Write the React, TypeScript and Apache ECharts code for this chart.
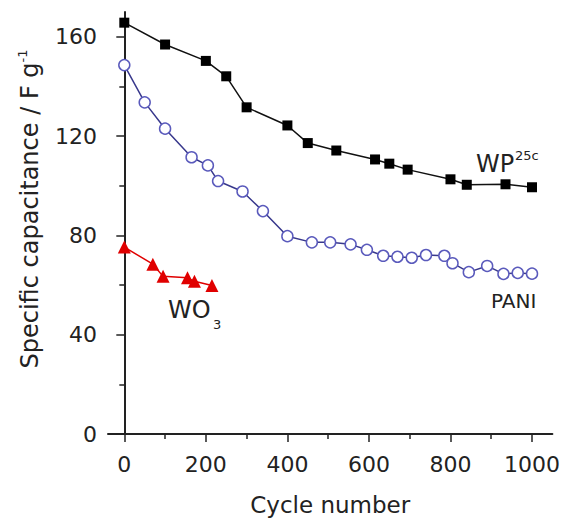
import { useEffect, useRef } from 'react';
import * as echarts from 'echarts';

const wpCycles = [0, 100, 200, 250, 300, 400, 450, 520, 615, 650, 695, 800, 840, 935, 1000];
const wpValues = [165.7, 156.9, 150.3, 144.1, 131.6, 124.3, 117.2, 114.2, 110.6, 108.9, 106.5, 102.6, 100.4, 100.6, 99.4];

const paniCycles = [0, 50, 100, 165, 205, 230, 290, 340, 400, 460, 505, 555, 595, 635, 670, 705, 740, 785, 805, 845, 890, 930, 965, 1000];
const paniValues = [148.6, 133.6, 123.0, 111.5, 108.2, 101.9, 97.7, 89.8, 79.7, 77.2, 77.2, 76.4, 74.2, 71.8, 71.4, 71.0, 72.1, 71.8, 68.8, 65.2, 67.7, 64.5, 64.9, 64.6];

const wo3Cycles = [0, 70, 95, 155, 172, 215];
const wo3Values = [75.3, 68.4, 63.5, 62.9, 61.5, 59.8];

const xMajorTicks = [0, 200, 400, 600, 800, 1000];
const xMinorTicks = [100, 300, 500, 700, 900];
const yMajorTicks = [0, 40, 80, 120, 160];
const yMinorTicks = [20, 60, 100, 140];

const FONT = 'DejaVu Sans';
const TEXT = '#222';

const zip = (xs: number[], ys: number[]) => xs.map((x, i) => [x, ys[i]]);

export default function App() {
  const ref = useRef<HTMLDivElement>(null);
  useEffect(() => {
    if (!ref.current) return;
    const chart = echarts.init(ref.current, null, { renderer: 'svg' });
    const axisLine = { show: true, lineStyle: { color: '#222', width: 2 } };
    chart.setOption({
      animation: false,
      backgroundColor: '#fff',
      grid: { left: 108, right: 10, top: 12, bottom: 78 },
      xAxis: [
        {
          type: 'value', min: -40, max: 1050,
          axisLine,
          splitLine: { show: false },
          axisTick: { show: true, customValues: xMajorTicks, length: 8, lineStyle: { color: '#222', width: 1.5 } },
          axisLabel: { customValues: xMajorTicks, fontSize: 22, fontFamily: FONT, color: TEXT, margin: 19, formatter: (v: number) => String(v) },
          name: 'Cycle number', nameLocation: 'middle', nameGap: 59,
          nameTextStyle: { fontSize: 23, fontFamily: FONT, color: TEXT },
        },
        {
          type: 'value', min: -40, max: 1050, position: 'bottom',
          axisLine: { show: false },
          splitLine: { show: false },
          axisTick: { show: true, customValues: xMinorTicks, length: 5, lineStyle: { color: '#222', width: 1.5 } },
          axisLabel: { show: false },
        },
      ],
      yAxis: [
        {
          type: 'value', min: 0, max: 170,
          axisLine,
          splitLine: { show: false },
          axisTick: { show: true, customValues: yMajorTicks, length: 8, lineStyle: { color: '#222', width: 1.5 } },
          axisLabel: { customValues: yMajorTicks, fontSize: 22, fontFamily: FONT, color: TEXT, margin: 11, formatter: (v: number) => String(v) },
        },
        {
          type: 'value', min: 0, max: 170, position: 'left',
          axisLine: { show: false },
          splitLine: { show: false },
          axisTick: { show: true, customValues: yMinorTicks, length: 5, lineStyle: { color: '#222', width: 1.5 } },
          axisLabel: { show: false },
        },
      ],
      series: [
        {
          name: 'WP25c', type: 'line', data: zip(wpCycles, wpValues),
          symbol: 'rect', symbolSize: 10,
          itemStyle: { color: '#000' },
          lineStyle: { color: '#111', width: 1.5 },
        },
        {
          name: 'PANI', type: 'line', data: zip(paniCycles, paniValues),
          symbol: 'circle', symbolSize: 11,
          itemStyle: { color: '#fff', borderColor: '#5a5abc', borderWidth: 1.5 },
          lineStyle: { color: '#38388c', width: 1.5 },
        },
        {
          name: 'WO3', type: 'line', data: zip(wo3Cycles, wo3Values),
          symbol: 'triangle', symbolSize: 13,
          itemStyle: { color: '#e00000' },
          lineStyle: { color: '#e00000', width: 1.5 },
        },
      ],
      graphic: [
        {
          type: 'text', x: 30, y: 209, rotation: Math.PI / 2,
          style: {
            text: '{a|Specific capacitance / F g}{b|-1}',
            align: 'center', verticalAlign: 'middle',
            rich: {
              a: { fontSize: 24, fontFamily: FONT, fill: TEXT, lineHeight: 28 },
              b: { fontSize: 13, fontFamily: FONT, fill: TEXT, verticalAlign: 'top', lineHeight: 13 },
            },
          },
        },
        { type: 'text', x: 476, y: 164, style: { text: 'WP', fontSize: 24, fontFamily: FONT, fill: TEXT, verticalAlign: 'middle' } },
        { type: 'text', x: 515, y: 155, style: { text: '25c', fontSize: 13, fontFamily: FONT, fill: TEXT, verticalAlign: 'middle' } },
        { type: 'text', x: 491, y: 301, style: { text: 'PANI', fontSize: 20, fontFamily: FONT, fill: TEXT, verticalAlign: 'middle' } },
        { type: 'text', x: 168, y: 310, style: { text: 'WO', fontSize: 24, fontFamily: FONT, fill: TEXT, verticalAlign: 'middle' } },
        { type: 'text', x: 213, y: 324, style: { text: '3', fontSize: 13, fontFamily: FONT, fill: TEXT, verticalAlign: 'middle' } },
      ],
    });
    return () => chart.dispose();
  }, []);
  return <div ref={ref} style={{ position: 'fixed', left: 0, top: 0, width: 563, height: 521 }} />;
}
